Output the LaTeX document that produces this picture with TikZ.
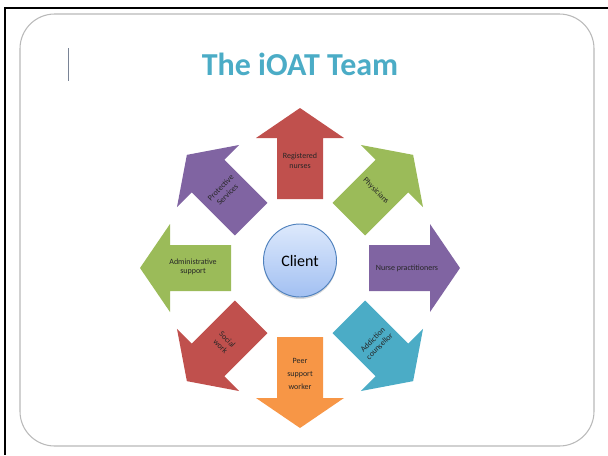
\documentclass[tikz,border=0pt]{standalone}
\usepackage{fontspec}
\setmainfont{Carlito}
\usetikzlibrary{shadows}

\definecolor{ioatred}{HTML}{C0504D}
\definecolor{ioatgreen}{HTML}{9BBB59}
\definecolor{ioatpurple}{HTML}{8064A2}
\definecolor{ioatteal}{HTML}{4BACC6}
\definecolor{ioatorange}{HTML}{F79646}
\definecolor{clienttop}{HTML}{DDE9FC}
\definecolor{clientbottom}{HTML}{A2C0F2}
\definecolor{clientedge}{HTML}{4F81BD}
\definecolor{markgray}{HTML}{7A8496}

\tikzset{
  teamarrow/.pic={
    \path[pic actions] (69,-23) -- (130,-23) -- (130,-44) -- (160,0)
      -- (130,44) -- (130,23) -- (69,23) -- cycle;
  },
  role/.style={font=\fontsize{6}{7.2}\selectfont, text=black!85,
    align=center, inner sep=0pt},
}

\begin{document}
\begin{tikzpicture}[x=0.75pt, y=-0.75pt]
\useasboundingbox (0,0) rectangle (608,455);

% Slide frame
\draw[line width=1.8pt] (4,8) -- (608,8);
\draw[line width=1.6pt] (5,8) -- (5,455);
\draw[gray!55, line width=0.8pt, rounded corners=26pt] (20,14) rectangle (594,446);
\draw[line width=0.7pt, color=markgray] (68,48) -- (68,81);

% Title
\node[font=\fontsize{24}{28}\selectfont\bfseries, text=ioatteal, anchor=base]
  (title) at (300,75) {The iOAT Team};

% Centre of the arrow ring
\coordinate (hub) at (300,268);

% Arrows, clockwise from the top
\pic[rotate=90,   fill=ioatred]    at (hub) {teamarrow};
\pic[rotate=45,   fill=ioatgreen]  at (hub) {teamarrow};
\pic[rotate=0,    fill=ioatpurple] at (hub) {teamarrow};
\pic[rotate=-45,  fill=ioatteal]   at (hub) {teamarrow};
\pic[rotate=-90,  fill=ioatorange] at (hub) {teamarrow};
\pic[rotate=-135, fill=ioatred]    at (hub) {teamarrow};
\pic[rotate=180,  fill=ioatgreen]  at (hub) {teamarrow};
\pic[rotate=135,  fill=ioatpurple] at (hub) {teamarrow};

% Labels on the arrows
\node[role] (nurses)        at (300,161) {Registered\\nurses};
\node[role, rotate=-45] (physicians) at (376,191) {Physicians};
\node[role] (practitioners) at (407,268) {Nurse practitioners};
\node[role, rotate=45] (addiction)   at (376,343) {Addiction\\counsellor};
\node[role, font=\fontsize{6}{9.5}\selectfont] (peer) at (300,374) {Peer\\support\\worker};
\node[role, rotate=-45] (social)     at (224,343) {Social\\work};
\node[role] (admin)         at (193,267) {Administrative\\support};
\node[role, rotate=45] (protective)  at (224,191) {Protective\\Services};

% Client in the middle
\node[circle, minimum size=54.75pt, inner sep=0pt, draw=clientedge, line width=0.7pt,
  top color=clienttop, bottom color=clientbottom,
  drop shadow={shadow xshift=0pt, shadow yshift=-1.5pt, opacity=0.3},
  font=\fontsize{12}{14}\selectfont] (client) at (300,260.5) {Client};

\end{tikzpicture}
\end{document}
